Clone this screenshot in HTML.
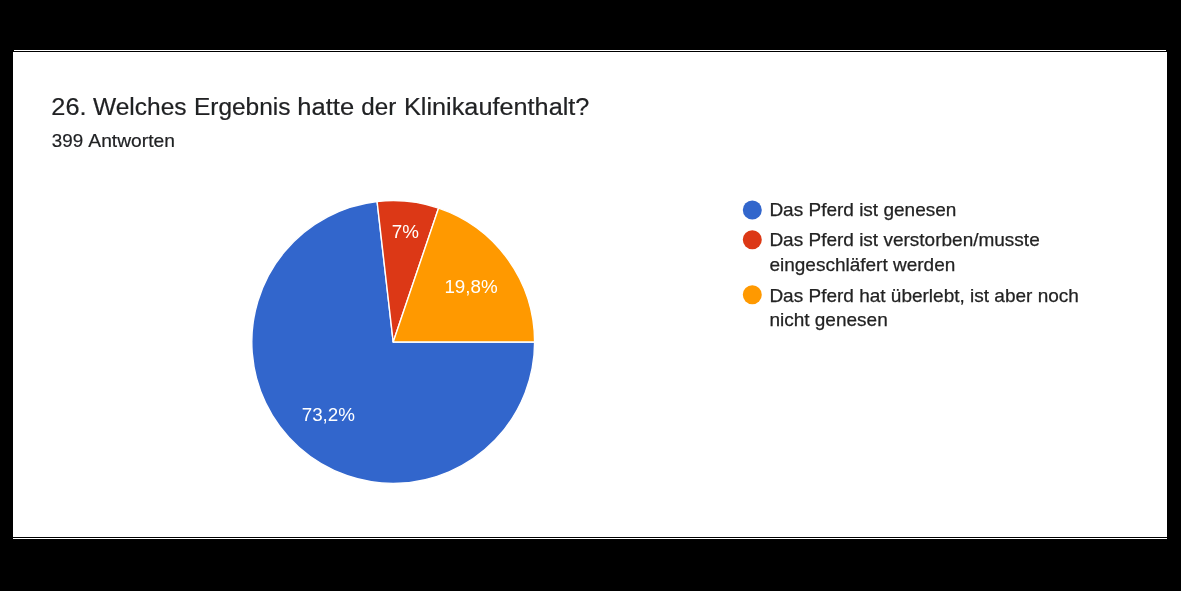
<!DOCTYPE html>
<html><head><meta charset="utf-8">
<style>
html,body{margin:0;padding:0;background:#000;}
body{width:1181px;height:591px;overflow:hidden;position:relative;font-family:"Liberation Sans",sans-serif;}
svg{position:absolute;left:0;top:0;display:block;}
text{font-family:"Liberation Sans",sans-serif;}
</style></head><body>
<svg width="1181" height="591" viewBox="0 0 1181 591">
<rect x="0" y="0" width="1181" height="591" fill="#000"/>
<rect x="14" y="50" width="1152" height="1" fill="#fff"/>
<rect x="13" y="52" width="1154" height="485" fill="#fff"/>
<rect x="13" y="538" width="1154" height="1" fill="#fff"/>
<defs><filter id="sf" x="0" y="0" width="1181" height="591" filterUnits="userSpaceOnUse"><feGaussianBlur stdDeviation="0.38"/></filter></defs>
<g filter="url(#sf)">
<!-- title -->
<g font-size="24.7" fill="#202124" stroke="#202124" stroke-width="0.2">
<text x="51.37" y="115.3" textLength="35.24" lengthAdjust="spacingAndGlyphs">26.</text>
<text x="93.00" y="115.3" textLength="93.64" lengthAdjust="spacingAndGlyphs">Welches</text>
<text x="193.92" y="115.3" textLength="96.62" lengthAdjust="spacingAndGlyphs">Ergebnis</text>
<text x="297.37" y="115.3" textLength="56.79" lengthAdjust="spacingAndGlyphs">hatte</text>
<text x="361.22" y="115.3" textLength="35.00" lengthAdjust="spacingAndGlyphs">der</text>
<text x="403.95" y="115.3" textLength="185.50" lengthAdjust="spacingAndGlyphs">Klinikaufenthalt?</text>
</g>
<g font-size="19" fill="#202124" stroke="#202124" stroke-width="0.2">
<text x="51.80" y="147.2" textLength="31.30" lengthAdjust="spacingAndGlyphs">399</text>
<text x="88.30" y="147.2" textLength="86.62" lengthAdjust="spacingAndGlyphs">Antworten</text>
</g>
<!-- pie -->
<g>
<path d="M393.2,342.0 L534.60,342.00 A141.4,141.4 0 1 1 377.09,201.52 Z" fill="#3366cc" stroke="#fff" stroke-width="1.4" stroke-linejoin="round"/>
<path d="M393.2,342.0 L377.09,201.52 A141.4,141.4 0 0 1 438.59,208.08 Z" fill="#dc3912" stroke="#fff" stroke-width="1.4" stroke-linejoin="round"/>
<path d="M393.2,342.0 L438.59,208.08 A141.4,141.4 0 0 1 534.60,342.00 Z" fill="#ff9900" stroke="#fff" stroke-width="1.4" stroke-linejoin="round"/>
</g>
<g font-size="18.8" fill="#fff">
<text x="301.7" y="421.1">73,2%</text>
<text x="391.7" y="238">7%</text>
<text x="444.4" y="293.3">19,8%</text>
</g>
<!-- legend -->
<circle cx="752.3" cy="210" r="9.5" fill="#3366cc"/>
<circle cx="752.3" cy="239.8" r="9.5" fill="#dc3912"/>
<circle cx="752.3" cy="294.8" r="9.5" fill="#ff9900"/>
<g font-size="19" fill="#222" stroke="#222" stroke-width="0.25">
<text x="769.4" y="216.2">Das Pferd ist genesen</text>
<text x="769.4" y="246.3">Das Pferd ist verstorben/musste</text>
<text x="769.4" y="271.1">eingeschläfert werden</text>
<text x="769.4" y="301.5">Das Pferd hat überlebt, ist aber noch</text>
<text x="769.4" y="326.3">nicht genesen</text>
</g>
</g>
</svg>
</body></html>
